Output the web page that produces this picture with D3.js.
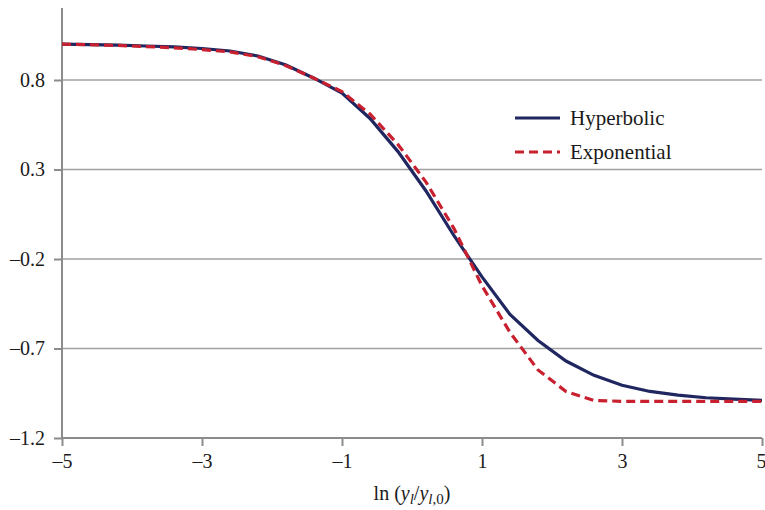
<!DOCTYPE html>
<html><head><meta charset="utf-8">
<script src="https://cdn.jsdelivr.net/npm/d3@7"></script>
<style>body{margin:0;background:#fff}svg{display:block}text{font-family:"Liberation Serif","Times New Roman",serif}</style>
</head><body>
<svg id="c" width="765" height="510"></svg>
<script>
const xValues = [-5,-4.6,-4.2,-3.8,-3.4,-3.0,-2.6,-2.2,-1.8,-1.4,-1.0,-0.6,-0.2,0.2,0.6,1.0,1.4,1.8,2.2,2.6,3.0,3.4,3.8,4.2,4.6,5.0];
const hyperbolic = [1.0,0.998,0.995,0.99,0.985,0.976,0.962,0.934,0.884,0.81,0.727,0.585,0.40,0.18,-0.07,-0.30,-0.51,-0.655,-0.77,-0.85,-0.905,-0.94,-0.96,-0.975,-0.983,-0.99];
const exponential = [1.0,0.997,0.993,0.987,0.98,0.97,0.957,0.93,0.88,0.81,0.735,0.61,0.44,0.23,-0.03,-0.35,-0.61,-0.82,-0.94,-0.99,-0.995,-0.995,-0.995,-0.995,-0.995,-0.995];
const xTicks = [-5,-3,-1,1,3,5];
const yTicks = [-1.2,-0.7,-0.2,0.3,0.8];
const seriesNames = ["Hyperbolic","Exponential"];

const svg = d3.select("#c");
const x = d3.scaleLinear().domain([-5,5]).range([62,762]);
const y = d3.scaleLinear().domain([-1.2,1.2]).range([438,8.4]);
const fmtY = v => (v<0?"\u2013":"") + Math.abs(v).toFixed(1);

// gridlines
svg.append("g").selectAll("line").data(yTicks.filter(v=>v>-1.2)).join("line")
  .attr("x1",62).attr("x2",762).attr("y1",d=>y(d)).attr("y2",d=>y(d))
  .attr("stroke","#a0a0a0").attr("stroke-width",1.5);

// y axis
const ya = svg.append("g").attr("transform","translate(62,0)")
  .call(d3.axisLeft(y).tickValues(yTicks).tickSize(8).tickPadding(9).tickFormat(fmtY));
ya.select(".domain").attr("stroke","#8c8c8c").attr("stroke-width",2).attr("d","M0,8V438");
ya.selectAll(".tick line").attr("stroke","#8c8c8c").attr("stroke-width",2);
ya.selectAll("text").attr("font-size",20).attr("fill","#1a1a1a").attr("font-family","Liberation Serif, serif");

// x axis
const xa = svg.append("g").attr("transform","translate(0,438)")
  .call(d3.axisBottom(x).tickValues(xTicks).tickSize(8).tickPadding(8).tickFormat(v=>(v<0?"\u2013":"")+Math.abs(v)));
xa.select(".domain").attr("stroke","#8c8c8c").attr("stroke-width",2).attr("d","M62,0H762");
xa.selectAll(".tick line").attr("stroke","#8c8c8c").attr("stroke-width",2);
xa.selectAll("text").attr("font-size",20).attr("fill","#1a1a1a").attr("font-family","Liberation Serif, serif");
xa.selectAll(".tick").filter(d=>d===5).select("text").attr("text-anchor","end").attr("dx",4);

// lines
const line = d3.line().x((d,i)=>x(xValues[i])).y(d=>y(d));
svg.append("path").datum(hyperbolic).attr("d",line).attr("fill","none")
  .attr("stroke","#1f2660").attr("stroke-width",3.2);
svg.append("path").datum(exponential).attr("d",line).attr("fill","none")
  .attr("stroke","#c8202f").attr("stroke-width",3.2).attr("stroke-dasharray","9,5");

// legend
const lg = svg.append("g");
const styles = [{c:"#1f2660",d:null},{c:"#c8202f",d:"9,5"}];
seriesNames.forEach((n,i)=>{
  const yy = 118 + i*34;
  lg.append("line").attr("x1",515).attr("x2",560).attr("y1",yy).attr("y2",yy)
    .attr("stroke",styles[i].c).attr("stroke-width",3.2).attr("stroke-dasharray",styles[i].d);
  lg.append("text").attr("x",570).attr("y",yy+7).attr("font-size",21).attr("fill","#1a1a1a").text(n);
});

// x axis title
const t = svg.append("text").attr("x",412).attr("y",500).attr("text-anchor","middle").attr("font-size",20).attr("fill","#1a1a1a");
t.append("tspan").text("ln (");
t.append("tspan").attr("font-style","italic").text("y");
t.append("tspan").attr("font-style","italic").attr("font-size",15).attr("dy",4).text("l");
t.append("tspan").attr("dy",-4).text("/");
t.append("tspan").attr("font-style","italic").text("y");
t.append("tspan").attr("font-style","italic").attr("font-size",15).attr("dy",4).text("l");
t.append("tspan").attr("font-size",15).text(",0");
t.append("tspan").attr("dy",-4).text(")");
</script>
</body></html>
